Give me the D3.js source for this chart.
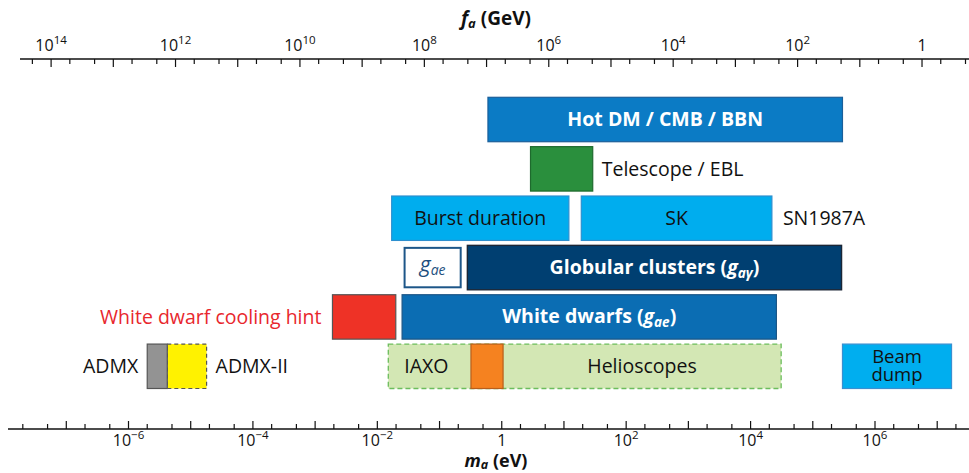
<!DOCTYPE html>
<html>
<head>
<meta charset="utf-8">
<script src="https://cdn.jsdelivr.net/npm/d3@7/dist/d3.min.js"></script>
<style>
  html, body { margin: 0; padding: 0; background: #fff; }
  svg { display: block; font-family: "Open Sans", "Noto Sans", sans-serif; }
</style>
</head>
<body>
<svg id="chart" width="969" height="473"></svg>
<script>
// Axion mass (eV) ranges probed or excluded by each constraint
const rows = ["hot", "telescope", "sn", "gc", "wd", "lab"];

const barNames = ["Hot DM / CMB / BBN", "Telescope / EBL", "Burst duration", "SK",
  "gae", "Globular clusters", "White dwarf cooling hint", "White dwarfs",
  "Helioscopes", "IAXO", "ADMX", "ADMX-II", "Beam dump"];
const barRows  = ["hot", "telescope", "sn", "sn", "gc", "gc", "wd", "wd",
  "lab", "lab", "lab", "lab", "lab"];
const barLo = [0.6, 2.9, 0.017, 19, 0.025, 0.28, 1.9e-3, 0.025, 0.015, 0.32, 2e-6, 4.2e-6, 3.0e5];
const barHi = [3.0e5, 29, 12, 2.2e4, 0.24, 2.9e5, 0.0198, 2.6e4, 3.1e4, 1.05, 4.2e-6, 1.8e-5, 1.7e7];
const barKind = ["hot", "tele", "sn", "sn", "outline", "gc", "hint", "wd",
  "helio", "iaxo", "admx", "admx2", "beam"];

// Tick labels on both axes
const massLabels = [1e-6, 1e-4, 1e-2, 1, 1e2, 1e4, 1e6];
const decayLabels = [1e14, 1e12, 1e10, 1e8, 1e6, 1e4, 1e2, 1];
const tickMultipliers = [1, 2, 5];

// f_a * m_a = 5.7e6 GeV·eV
const faMa = 5.7e6;

const W = 969, H = 473;
const svg = d3.select("#chart");

const x = d3.scaleLog().domain([1e-6, 1e6]).range([128.5, 875]);
const xTop = d3.scaleLog().domain([faMa / 1e-6, faMa / 1e6]).range([128.5, 875]);
const y = d3.scaleBand().domain(rows).range([97.3, 388.5]).paddingInner(0.1).paddingOuter(0);

const styles = {
  hot:     { fill: "#0b7bc5", stroke: "#1b5f9a", sw: 1.2 },
  tele:    { fill: "#2a8f3d", stroke: "#1e6a2d", sw: 1.2 },
  sn:      { fill: "#00adee", stroke: "#2d8fcf", sw: 1.2 },
  outline: { fill: "#ffffff", stroke: "#1d5688", sw: 2, inset: 2.5 },
  gc:      { fill: "#003f71", stroke: "#1b2636", sw: 1.4 },
  hint:    { fill: "#ee3226", stroke: "#555555", sw: 1.2 },
  wd:      { fill: "#0b6db3", stroke: "#1c5686", sw: 1.2 },
  helio:   { fill: "#d3e7b4", stroke: "#6cbd5c", sw: 1.3, dash: "5,3" },
  iaxo:    { fill: "#f58220", stroke: "#b85f1c", sw: 1.2 },
  admx:    { fill: "#939393", stroke: "#555555", sw: 1.2 },
  admx2:   { fill: "#fff200", stroke: "#555555", sw: 1.2, dash: "4,3" },
  beam:    { fill: "#00aeef", stroke: "#3a8fd0", sw: 1.2 }
};

// Draw order: helioscopes behind IAXO, ADMX-II behind ADMX border
const order = [0, 1, 2, 3, 4, 5, 6, 7, 8, 9, 11, 10, 12];
const bars = order.map(i => ({
  name: barNames[i], row: barRows[i], lo: barLo[i], hi: barHi[i], kind: barKind[i]
}));

svg.append("g").selectAll("rect").data(bars).join("rect")
  .attr("x", d => x(d.lo) + (styles[d.kind].inset || 0))
  .attr("y", d => y(d.row) + (styles[d.kind].inset || 0))
  .attr("width", d => x(d.hi) - x(d.lo) - 2 * (styles[d.kind].inset || 0))
  .attr("height", d => y.bandwidth() - 2 * (styles[d.kind].inset || 0))
  .attr("fill", d => styles[d.kind].fill)
  .attr("stroke", d => styles[d.kind].stroke)
  .attr("stroke-width", d => styles[d.kind].sw)
  .attr("stroke-dasharray", d => styles[d.kind].dash || null);

const barOf = name => {
  const i = barNames.indexOf(name);
  return { x0: x(barLo[i]), x1: x(barHi[i]), yc: y(barRows[i]) + y.bandwidth() / 2 };
};

// Labels
const FS = 19.5;
const labels = svg.append("g").attr("font-size", FS);

function label(text, xPos, yPos, opts = {}) {
  return labels.append("text")
    .attr("x", xPos).attr("y", yPos)
    .attr("text-anchor", opts.anchor || "middle")
    .attr("font-weight", opts.bold ? 700 : 400)
    .attr("font-size", opts.size || null)
    .attr("fill", opts.color || "#111")
    .text(text);
}

let b = barOf("Hot DM / CMB / BBN");
label("Hot DM / CMB / BBN", (b.x0 + b.x1) / 2, b.yc + 6.5, { bold: true, color: "#fff" });

b = barOf("Telescope / EBL");
label("Telescope / EBL", b.x1 + 9, b.yc + 7, { anchor: "start" });

b = barOf("Burst duration");
label("Burst duration", (b.x0 + b.x1) / 2, b.yc + 7);
b = barOf("SK");
label("SK", (b.x0 + b.x1) / 2, b.yc + 7);
label("SN1987A", b.x1 + 11, b.yc + 7, { anchor: "start" });

b = barOf("gae");
{
  const t = labels.append("text").attr("x", (b.x0 + b.x1) / 2).attr("y", b.yc + 4)
    .attr("text-anchor", "middle").attr("fill", "#1d4f7e");
  t.append("tspan").attr("font-style", "italic").attr("font-size", 21).text("g");
  t.append("tspan").attr("font-style", "italic").attr("font-size", 14).attr("dy", 3).text("ae");
}

b = barOf("Globular clusters");
{
  const t = labels.append("text").attr("x", (b.x0 + b.x1) / 2).attr("y", b.yc + 6.5)
    .attr("text-anchor", "middle").attr("fill", "#fff").attr("font-weight", 700);
  t.append("tspan").text("Globular clusters (");
  t.append("tspan").attr("font-style", "italic").text("g");
  t.append("tspan").attr("font-style", "italic").attr("font-size", 13.5).attr("dy", 4).text("aγ");
  t.append("tspan").attr("dy", -4).text(")");
}

b = barOf("White dwarf cooling hint");
label("White dwarf cooling hint", b.x0 - 11, b.yc + 7, { anchor: "end", color: "#e8272d" });

b = barOf("White dwarfs");
{
  const t = labels.append("text").attr("x", (b.x0 + b.x1) / 2).attr("y", b.yc + 6.5)
    .attr("text-anchor", "middle").attr("fill", "#fff").attr("font-weight", 700);
  t.append("tspan").text("White dwarfs (");
  t.append("tspan").attr("font-style", "italic").text("g");
  t.append("tspan").attr("font-style", "italic").attr("font-size", 13.5).attr("dy", 4).text("ae");
  t.append("tspan").attr("dy", -4).text(")");
}

b = barOf("Helioscopes");
label("IAXO", b.x0 + 16, b.yc + 7, { anchor: "start" });
label("Helioscopes", 642, b.yc + 7);

b = barOf("ADMX");
label("ADMX", b.x0 - 9, b.yc + 7, { anchor: "end" });
b = barOf("ADMX-II");
label("ADMX-II", b.x1 + 9, b.yc + 7, { anchor: "start" });

// Two-line label inside the beam-dump box
b = barOf("Beam dump");
label("Beam", (b.x0 + b.x1) / 2, b.yc - 3.5, { size: 18.5 });
label("dump", (b.x0 + b.x1) / 2, b.yc + 15, { size: 18.5 });

// Tick value generator: 1, 2, 5 per decade
function tickValues(minExp, maxExp) {
  const out = [];
  for (let e = minExp; e <= maxExp; e++)
    tickMultipliers.forEach(m => out.push(m * Math.pow(10, e)));
  return out;
}

function powerLabel(sel, v, size) {
  const e = Math.round(Math.log10(v));
  if (e === 0) { sel.append("tspan").text("1"); return; }
  sel.append("tspan").text("10");
  sel.append("tspan").attr("font-size", size * 0.72).attr("dy", -size * 0.42)
    .text(e < 0 ? "\u2212" + (-e) : String(e));
}

// Bottom axis: m_a (eV)
const bottomY = 429, botX0 = 8, botX1 = W;
const gb = svg.append("g").attr("stroke", "#111").attr("fill", "none");
gb.append("line").attr("x1", botX0).attr("x2", botX1).attr("y1", bottomY).attr("y2", bottomY)
  .attr("stroke-width", 1.6);
tickValues(-9, 9).filter(v => x(v) > botX0 + 2 && x(v) < botX1).forEach(v => {
  const major = Math.abs(Math.log10(v) - Math.round(Math.log10(v))) < 1e-9;
  gb.append("line").attr("x1", x(v)).attr("x2", x(v))
    .attr("y1", bottomY).attr("y2", bottomY - (major ? 8 : 5)).attr("stroke-width", 1.2);
});
massLabels.forEach(v => {
  const t = svg.append("text").attr("x", x(v)).attr("y", 445.5).attr("text-anchor", "middle")
    .attr("font-size", 16).attr("fill", "#111");
  powerLabel(t, v, 16);
});
{
  const t = svg.append("text").attr("x", 496).attr("y", 466.5).attr("text-anchor", "middle")
    .attr("font-size", 18).attr("font-weight", 700).attr("fill", "#111");
  t.append("tspan").attr("font-style", "italic").text("m");
  t.append("tspan").attr("font-style", "italic").attr("font-size", 12.5).attr("dy", 2.5).text("a");
  t.append("tspan").attr("dy", -2.5).text(" (eV)");
}

// Top axis: f_a (GeV)
const topY = 59, topX0 = 20, topX1 = W;
const gt = svg.append("g").attr("stroke", "#111").attr("fill", "none");
gt.append("line").attr("x1", topX0).attr("x2", topX1).attr("y1", topY).attr("y2", topY)
  .attr("stroke-width", 1.6);
tickValues(-2, 16).filter(v => xTop(v) > topX0 + 2 && xTop(v) < topX1).forEach(v => {
  const major = Math.abs(Math.log10(v) - Math.round(Math.log10(v))) < 1e-9;
  gt.append("line").attr("x1", xTop(v)).attr("x2", xTop(v))
    .attr("y1", topY).attr("y2", topY + (major ? 8 : 5)).attr("stroke-width", 1.2);
});
decayLabels.forEach(v => {
  const t = svg.append("text").attr("x", xTop(v)).attr("y", 51).attr("text-anchor", "middle")
    .attr("font-size", 16).attr("fill", "#111");
  powerLabel(t, v, 16);
});
{
  const t = svg.append("text").attr("x", 496).attr("y", 25).attr("text-anchor", "middle")
    .attr("font-size", 19).attr("font-weight", 700).attr("fill", "#111");
  t.append("tspan").attr("font-style", "italic").text("f");
  t.append("tspan").attr("font-style", "italic").attr("font-size", 13).attr("dy", 3).text("a");
  t.append("tspan").attr("dy", -3).text(" (GeV)");
}
</script>
</body>
</html>
